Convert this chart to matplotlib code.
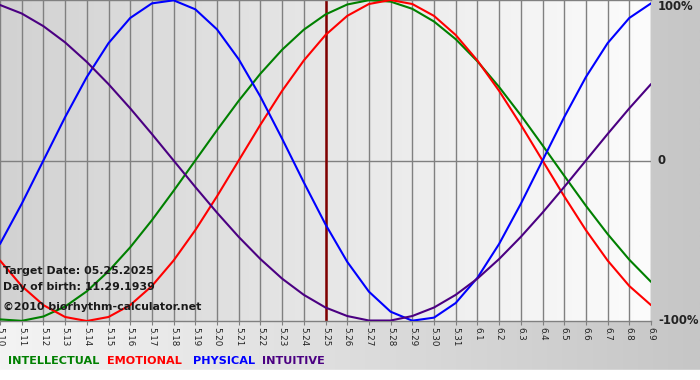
import numpy as np
import matplotlib
matplotlib.use("Agg")
import matplotlib.pyplot as plt
from matplotlib.colors import LinearSegmentedColormap

# days shown, 5.10 .. 6.9 (target date 5.25 in the middle)
dates = ["5.10", "5.11", "5.12", "5.13", "5.14", "5.15", "5.16", "5.17", "5.18", "5.19",
         "5.20", "5.21", "5.22", "5.23", "5.24", "5.25", "5.26", "5.27", "5.28", "5.29",
         "5.30", "5.31", "6.1", "6.2", "6.3", "6.4", "6.5", "6.6", "6.7", "6.8", "6.9"]
target = "5.25"

intellectual = [-0.990, -0.999, -0.972, -0.910, -0.815, -0.690, -0.541, -0.372, -0.189, 0.0,
                0.189, 0.372, 0.541, 0.690, 0.815, 0.910, 0.972, 0.999, 0.990, 0.945,
                0.866, 0.756, 0.618, 0.458, 0.282, 0.095, -0.095, -0.282, -0.458, -0.618, -0.756]
emotional = [-0.623, -0.782, -0.901, -0.975, -1.0, -0.975, -0.901, -0.782, -0.623, -0.434,
             -0.223, 0.0, 0.223, 0.434, 0.623, 0.782, 0.901, 0.975, 1.0, 0.975,
             0.901, 0.782, 0.623, 0.434, 0.223, 0.0, -0.223, -0.434, -0.623, -0.782, -0.901]
physical = [-0.520, -0.270, 0.0, 0.270, 0.520, 0.731, 0.888, 0.979, 0.998, 0.942,
            0.817, 0.631, 0.398, 0.136, -0.136, -0.398, -0.631, -0.817, -0.942, -0.998,
            -0.979, -0.888, -0.731, -0.520, -0.270, 0.0, 0.270, 0.520, 0.731, 0.888, 0.979]
intuitive = [0.969, 0.916, 0.837, 0.736, 0.614, 0.476, 0.325, 0.165, 0.0, -0.165,
             -0.325, -0.476, -0.614, -0.736, -0.837, -0.916, -0.969, -0.997, -0.997, -0.969,
             -0.916, -0.837, -0.736, -0.614, -0.476, -0.325, -0.165, 0.0, 0.165, 0.325, 0.476]

names = ["INTELLECTUAL", "EMOTIONAL", "PHYSICAL", "INTUITIVE"]
colors = ["#008000", "#ff0000", "#0000ff", "#4b0082"]
legend_x = [8, 107, 193, 262]

W, H = 700, 380
fig = plt.figure(figsize=(7, 3.8), dpi=100)

# figure background: light on the left, grey on the right, white strip at the bottom
bg = fig.add_axes([0, 0, 1, 1], zorder=-10)
bg_cmap = LinearSegmentedColormap.from_list("bg", ["#f4f4f4", "#c6c6c6"])
bg.imshow(np.linspace(0, 1, 256).reshape(1, -1), cmap=bg_cmap, aspect="auto",
          extent=[0, 1, 0, 1])
bg.axhspan(0, 10 / H, color="white")
bg.set_xlim(0, 1)
bg.set_ylim(0, 1)
bg.axis("off")

ax = fig.add_axes([0, 1 - 321 / H, 651 / W, 321 / H])
x = np.arange(len(dates))
ax.set_xlim(0, len(dates) - 1)
ax.set_ylim(-1, 1)

plot_cmap = LinearSegmentedColormap.from_list("pl", ["#d2d2d2", "#fcfcfc"])
ax.imshow(np.linspace(0, 1, 256).reshape(1, -1), cmap=plot_cmap, aspect="auto",
          extent=[0, len(dates) - 1, -1, 1], zorder=0)

for xi in x:
    ax.axvline(xi, color="#808080", lw=1, zorder=1)
ax.axhline(0, color="#808080", lw=1, zorder=1)
ax.axvline(dates.index(target), color="#800000", lw=1.8, zorder=2)

for vals, c in zip([intellectual, emotional, physical, intuitive], colors):
    ax.plot(x, vals, color=c, lw=1.5, zorder=3, solid_capstyle="round",
            solid_joinstyle="round")

for s in ["left", "right"]:
    ax.spines[s].set_visible(False)
for s in ["top", "bottom"]:
    ax.spines[s].set_color("#808080")
    ax.spines[s].set_linewidth(1)

ax.set_xticks(x)
ax.set_xticklabels(dates, rotation=-90, fontsize=6.3, color="#222222")
ax.tick_params(axis="x", length=3, color="#808080", pad=1)
ax.set_yticks([])

# right side labels
for txt, yp in [("100%", 6), ("0", 161), ("-100%", 321)]:
    fig.text(658 / W, 1 - yp / H, txt, fontsize=8.4, fontweight="bold",
             color="#222222", ha="left", va="center")

# info text
info = ["Target Date: 05.25.2025", "Day of birth: 11.29.1939"]
for i, t in enumerate(info):
    fig.text(3 / W, 1 - (271 + 16 * i) / H, t, fontsize=7.9, fontweight="bold",
             color="#1a1a1a", va="center", ha="left")
fig.text(3 / W, 1 - 307 / H, "©2010 biorhythm-calculator.net", fontsize=7.9,
         fontweight="bold", color="#1a1a1a", va="center", ha="left")

# legend
for name, c, lx in zip(names, colors, legend_x):
    fig.text(lx / W, 1 - 361 / H, name, fontsize=8.1, fontweight="bold",
             color=c, va="center", ha="left")

fig.savefig("out.png", dpi=100)
